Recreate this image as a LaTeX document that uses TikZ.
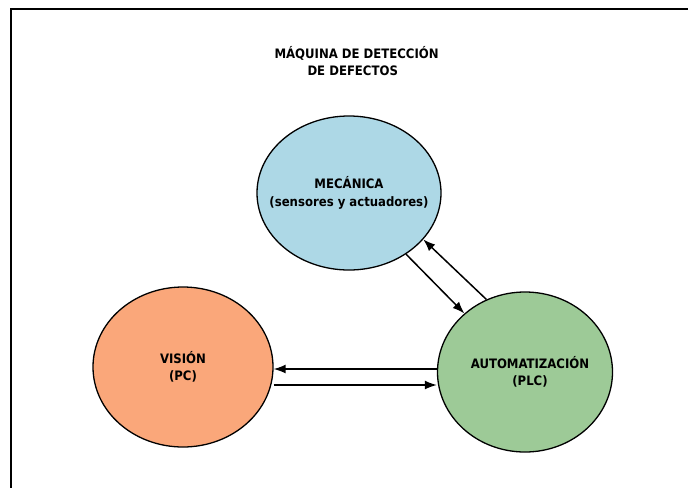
\documentclass[tikz,border=0pt]{standalone}
\usepackage{fontspec}
\setmainfont{DejaVu Sans Condensed}
\usetikzlibrary{shapes.geometric,arrows.meta}

\definecolor{azulmec}{RGB}{173,216,230}
\definecolor{naranjavis}{RGB}{250,167,122}
\definecolor{verdeauto}{RGB}{157,202,151}

\tikzset{
  texto/.style={align=center, font=\fontsize{13}{17.5}\selectfont\bfseries},
  bloque/.style={ellipse, draw=black, line width=1.3pt, inner sep=0pt},
  flecha/.style={-{Latex[length=12pt,width=9pt]}, line width=1.5pt}
}

\begin{document}
\begin{tikzpicture}[x=1pt,y=-1pt]
\useasboundingbox (0,0) rectangle (688,488);
% marco
\draw[line width=2pt] (688,9) -- (11,9) -- (11,488);

\node[texto, align=left, anchor=west] (titulo) at (271,61)
  {MÁQUINA DE DETECCIÓN\\\hspace*{33pt}DE DEFECTOS};

\node[bloque, fill=azulmec, minimum width=184pt, minimum height=154pt,
  label={[texto]center:MECÁNICA\\(sensores y actuadores)}] (mec) at (349,193) {};
\node[bloque, fill=naranjavis, minimum width=180pt, minimum height=160pt,
  label={[texto]center:VISIÓN\\(PC)}] (vis) at (183,367) {};
\node[bloque, fill=verdeauto, minimum width=175pt, minimum height=160pt,
  label={[texto, xshift=5pt]center:AUTOMATIZACIÓN\\(PLC)}] (auto) at (525,372) {};

% flechas
\draw[flecha] (mec.-47) -- (auto.136);
\draw[flecha] (auto.118) -- (mec.-32);
\draw[flecha] ([yshift=3pt]auto.west) -- ([yshift=-2pt]vis.east);
\draw[flecha] ([yshift=-18pt]vis.east) -- ([yshift=-13pt]auto.west);
\end{tikzpicture}
\end{document}
